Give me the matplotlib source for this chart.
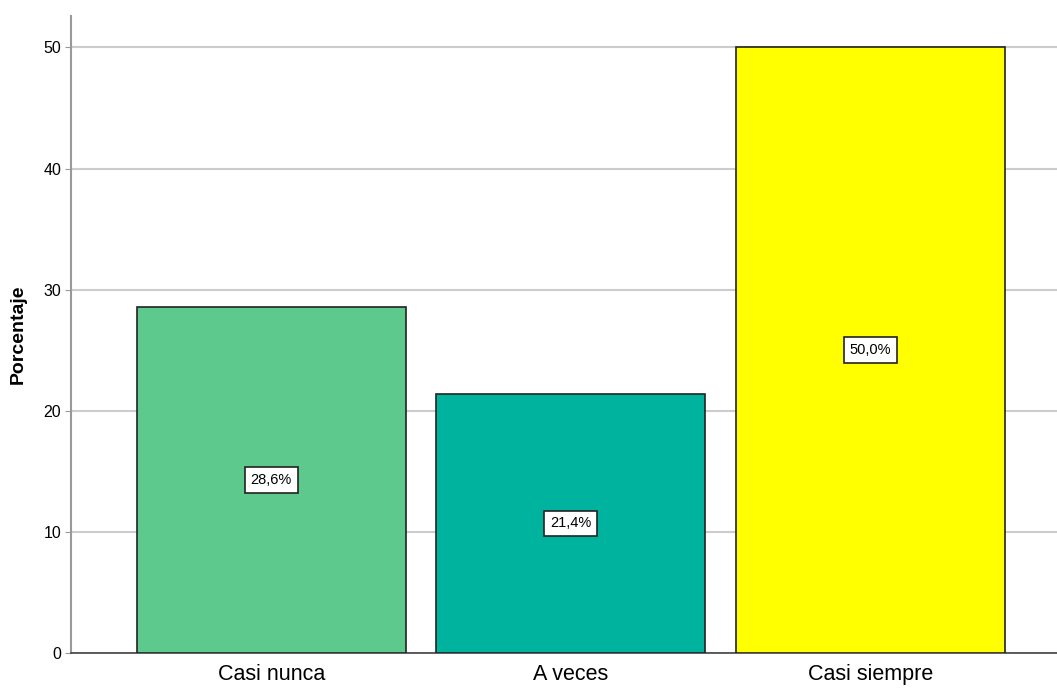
import numpy as np
import matplotlib.pyplot as plt

categorias = ['Casi nunca', 'A veces', 'Casi siempre']
porcentajes = [28.6, 21.4, 50.0]
colores = ['#5ec98c', '#00b39f', '#ffff00']
etiquetas = ['28,6%', '21,4%', '50,0%']

plt.rcParams['font.family'] = ['Liberation Sans', 'DejaVu Sans']

fig = plt.figure(figsize=(10.57, 6.95), dpi=100)
ax = fig.add_axes([0.0672, 0.0604, 0.9328, 0.9166])

x = np.arange(len(categorias))
ax.bar(x, porcentajes, width=0.897, color=colores, edgecolor='#222222',
       linewidth=1.2, zorder=3)

for xi, v, lab in zip(x, porcentajes, etiquetas):
    ax.text(xi, v / 2, lab, ha='center', va='center', fontsize=10.5,
            zorder=4,
            bbox=dict(boxstyle='square,pad=0.4', fc='white', ec='#222222', lw=1.2))

ax.set_xlim(-0.668, 2.622)
ax.set_ylim(0, 52.6)
ax.set_yticks([0, 10, 20, 30, 40, 50])
ax.set_xticks(x)
ax.set_xticklabels(categorias, fontsize=15.5)
ax.tick_params(axis='y', labelsize=11.5, length=4, color='#999999', pad=3)
ax.tick_params(axis='x', length=0, pad=8)

ax.grid(axis='y', color='#cccccc', lw=1.5, zorder=0)
for s in ['top', 'right']:
    ax.spines[s].set_visible(False)
ax.spines['left'].set_color('#999999')
ax.spines['left'].set_linewidth(1.5)
ax.spines['bottom'].set_color('#444444')
ax.spines['bottom'].set_linewidth(1.2)

ax.set_ylabel('Porcentaje', fontsize=14, fontweight='bold')
ax.yaxis.set_label_coords(-0.045, 0.5)

fig.savefig('out.png', dpi=100)
